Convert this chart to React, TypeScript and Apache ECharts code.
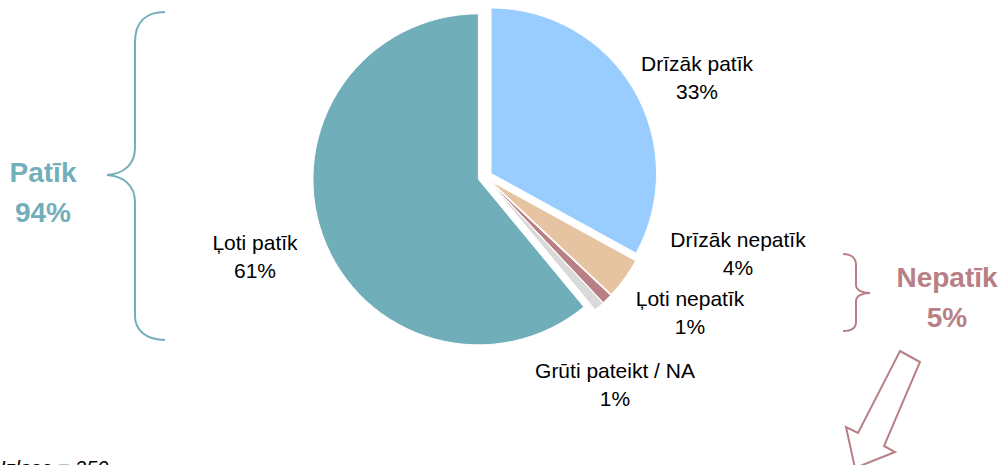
import React, { useEffect, useRef } from 'react';
import * as echarts from 'echarts';

const categories = ['Drīzāk patīk', 'Drīzāk nepatīk', 'Ļoti nepatīk', 'Grūti pateikt / NA', 'Ļoti patīk'];
const values = [33, 4, 1, 1, 61];
const colors = ['#99CCFF', '#E6C3A1', '#B88086', '#D9D9D9', '#70AEB9'];
const groupLabels = ['Patīk', 'Nepatīk'];
const groupValues = [94, 5];
const groupColors = ['#72AFBA', '#B88085'];
const footnote = 'Izlase = 250';

const labelAnchors: number[][] = [
  [697, 77],
  [738, 253],
  [690, 312],
  [615, 384],
  [255, 256],
];

const FONT = '"Liberation Sans", Arial, sans-serif';

echarts.graphic.registerShape(
  'braceLeft',
  echarts.graphic.extendPath(
    'M165,12 C146,12 135,22 135,42 L135,148 C135,164 124,174 107,175 C124,176 135,186 135,202 L135,316 C135,330 146,340 165,340',
    {}
  )
);
echarts.graphic.registerShape(
  'braceRight',
  echarts.graphic.extendPath(
    'M843,254 C851,254 856,258 856,265 L856,285 C856,290 862,293 870,293 C862,293 856,296 856,301 L856,322 C856,328 851,331 843,331',
    {}
  )
);

export default function App() {
  const ref = useRef<HTMLDivElement>(null);
  useEffect(() => {
    document.body.style.margin = '0';
    if (!ref.current) return;
    const chart = echarts.init(ref.current, undefined, { renderer: 'svg' });
    const data = categories.map((name, i) => ({
      name,
      value: values[i],
      selected: true,
      itemStyle: { color: colors[i] },
    }));
    const sliceLabels = categories.map((name, i) => ({
      type: 'text',
      style: {
        text: `${name}\n${values[i]}%`,
        x: labelAnchors[i][0],
        y: labelAnchors[i][1],
        align: 'center',
        verticalAlign: 'middle',
        fontFamily: FONT,
        fontSize: 21,
        lineHeight: 28,
        fill: '#000000',
      },
    }));
    chart.setOption({
      animation: false,
      backgroundColor: '#ffffff',
      series: [
        {
          type: 'pie',
          center: [485, 177],
          radius: [0, 165.5],
          startAngle: 90,
          clockwise: true,
          selectedMode: 'multiple',
          selectedOffset: 7,
          avoidLabelOverlap: false,
          itemStyle: { borderColor: '#ffffff', borderWidth: 1 },
          select: { itemStyle: { borderColor: '#ffffff', borderWidth: 1 } },
          emphasis: { disabled: true },
          data,
          label: { show: false },
          labelLine: { show: false },
        },
      ],
      graphic: [
        ...sliceLabels,
        {
          type: 'braceLeft',
          x: 0,
          y: 0,
          style: { fill: 'none', stroke: groupColors[0], lineWidth: 2 },
        },
        {
          type: 'braceRight',
          x: 0,
          y: 0,
          style: { fill: 'none', stroke: groupColors[1], lineWidth: 2 },
        },
        {
          type: 'polygon',
          shape: {
            points: [
              [900, 351],
              [920, 362],
              [884, 446],
              [895, 452],
              [855, 468],
              [846, 427],
              [858, 433],
            ],
          },
          style: { fill: '#ffffff', stroke: groupColors[1], lineWidth: 2 },
        },
        {
          type: 'text',
          style: {
            text: `${groupLabels[0]}\n${groupValues[0]}%`,
            x: 43,
            y: 192,
            align: 'center',
            verticalAlign: 'middle',
            fontFamily: FONT,
            fontSize: 28,
            fontWeight: 'bold',
            lineHeight: 40,
            fill: groupColors[0],
          },
        },
        {
          type: 'text',
          style: {
            text: `${groupLabels[1]}\n${groupValues[1]}%`,
            x: 947,
            y: 297,
            align: 'center',
            verticalAlign: 'middle',
            fontFamily: FONT,
            fontSize: 28,
            fontWeight: 'bold',
            lineHeight: 40,
            fill: groupColors[1],
          },
        },
        {
          type: 'text',
          style: {
            text: footnote,
            x: 0,
            y: 458,
            align: 'left',
            verticalAlign: 'top',
            fontFamily: FONT,
            fontSize: 20,
            fontStyle: 'italic',
            fill: '#000000',
          },
        },
      ],
    });
    return () => chart.dispose();
  }, []);
  return <div ref={ref} style={{ width: 1003, height: 465 }} />;
}
